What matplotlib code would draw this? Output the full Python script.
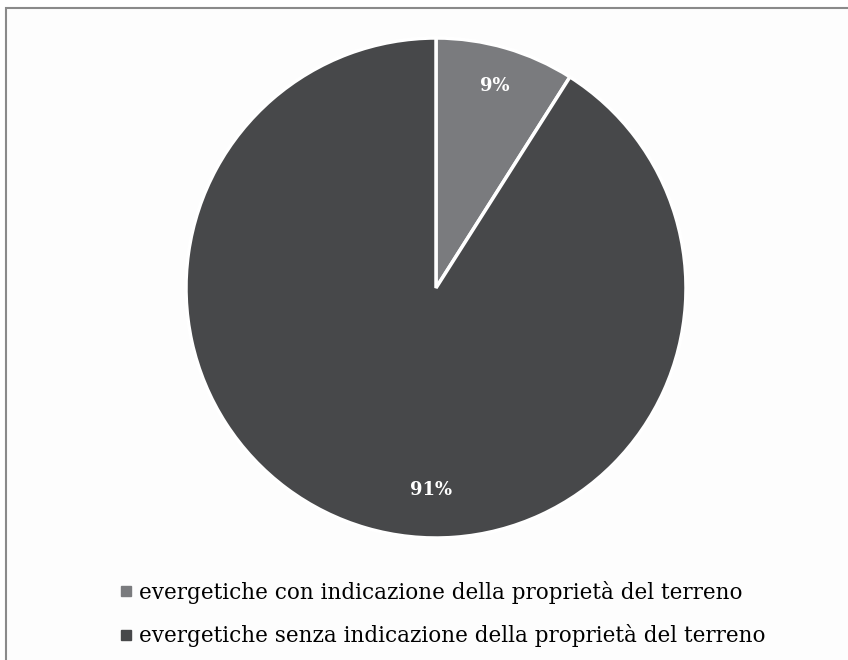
import numpy as np
import matplotlib
matplotlib.use("Agg")
import matplotlib.pyplot as plt
from matplotlib.lines import Line2D
from matplotlib.patches import Rectangle

categories = ["evergetiche con indicazione della proprietà del terreno",
              "evergetiche senza indicazione della proprietà del terreno"]
values = [9, 91]
colors = ["#7a7b7e", "#47484a"]

plt.rcParams['font.family'] = ['DejaVu Serif']

fig = plt.figure(figsize=(8.48, 6.6), dpi=100)
fig.patch.set_facecolor("white")
# outer frame
fig.patches.append(Rectangle((6/848, -0.1), 1.0, 1 - 8/660 + 0.1, transform=fig.transFigure,
                             facecolor="#fdfdfd", edgecolor="#8a8a8a", linewidth=1.5, zorder=-5))

ax = fig.add_axes([184/848, 1 - 540/660, 504/848, 504/660])
ax.set_zorder(2)
wedges, texts, autotexts = ax.pie(values, colors=colors, startangle=90, counterclock=False,
                                  autopct=lambda p: f"{p:.0f}%", pctdistance=0.84,
                                  wedgeprops=dict(edgecolor="white", linewidth=2.5),
                                  textprops=dict(color="white", fontsize=13, fontweight="bold"))
ax.set_xlim(-1.008, 1.008)
ax.set_ylim(-1.008, 1.008)
ax.set_aspect("equal")
# Reposition the large-slice label as in the reference
ang = np.deg2rad(-91.4)
autotexts[1].set_position((0.81 * np.cos(ang), 0.81 * np.sin(ang)))

handles = [Line2D([], [], marker="s", linestyle="none", markersize=6.5, color=c) for c in colors]
leg = fig.legend(handles, categories, loc="upper left", bbox_to_anchor=(112/848, 1 - 572/660),
                 frameon=False, fontsize=15.5, handlelength=0.5, handletextpad=0.35,
                 labelspacing=0.95, borderaxespad=0)
leg.set_zorder(3)

fig.savefig("out.png", dpi=100)
